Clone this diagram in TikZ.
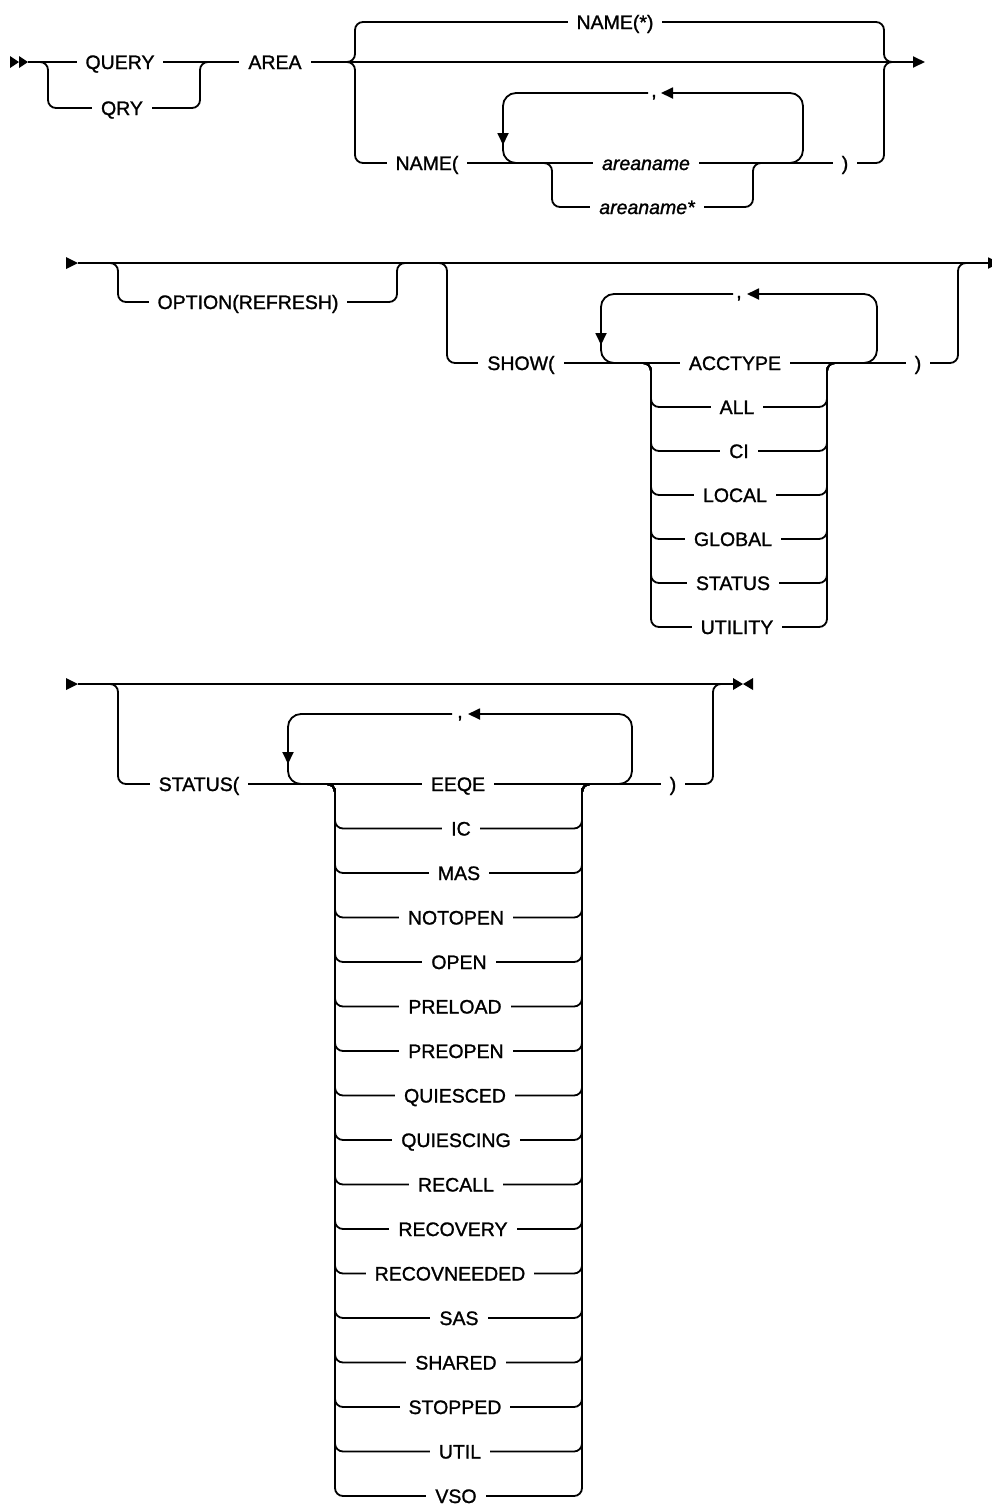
\documentclass[tikz,border=0pt]{standalone}
\usepackage{fontspec}
\setmainfont{Liberation Sans}[FakeBold=1.2]
\newfontface\varfont{Liberation Sans Italic}[FakeBold=1.2]
\usetikzlibrary{arrows.meta}
\begin{document}
\begin{tikzpicture}[x=1pt,y=-1pt,
  ln/.style={line width=1.8pt},
  rr/.style={ln, rounded corners=8pt},
  lp/.style={ln, rounded corners=13pt},
  kw/.style={fill=white, inner xsep=9pt, inner ysep=1pt, anchor=base, font=\fontsize{19.5}{22}\selectfont},
  var/.style={kw, font=\fontsize{19.5}{22}\selectfont\varfont},
  commastyle/.style={fill=white, inner xsep=3pt, inner ysep=0pt, anchor=base, font=\fontsize{19.5}{22}\selectfont},
  arr/.style={-{Triangle[length=12pt,width=11pt]}},
  markfill/.style={fill=black}]
\useasboundingbox (0,0) rectangle (992,1505);
\clip (0,0) rectangle (992,1505);

% ================= ROW 1 =================
\coordinate (r1s) at (28,62);
\coordinate (r1e) at (925,62);
\fill[markfill] (10,56) -- (19,62) -- (10,68) -- cycle;
\fill[markfill] (19,56) -- (28,62) -- (19,68) -- cycle;
\draw[ln, arr] (r1s) -- (r1e);
% QUERY / QRY
\draw[rr] (38,62) -- (48,62) -- (48,108) -- (200,108) -- (200,62) -- (210,62);
% NAME(*) / default / NAME(
\draw[rr] (345,62) -- (355,62) -- (355,22) -- (884,22) -- (884,62) -- (894,62);
\draw[rr] (345,62) -- (355,62) -- (355,163) -- (884,163) -- (884,62) -- (894,62);
% repeat loop
\draw[lp, arr] (780,163) -- (803,163) -- (803,93) -- (661,93);
\draw[lp] (648,93) -- (503,93) -- (503,128);
\draw[ln, arr] (503,122) -- (503,145);
\draw[lp] (503,139) -- (503,163) -- (528,163);
% areaname*
\draw[rr] (542,163) -- (552,163) -- (552,207) -- (753,207) -- (753,163) -- (763,163);

\node[kw] (query) at (120,69) {QUERY};
\node[kw] (qry) at (122,115) {QRY};
\node[kw] (area) at (275,69) {AREA};
\node[kw] (namestar) at (615,29) {NAME(*)};
\node[kw] (namep) at (427,170) {NAME(};
\node[commastyle] (c1) at (654,97) {,};
\node[var] (an1) at (646,170) {areaname};
\node[var] (an2) at (647,214) {areaname*};
\node[kw] (rp1) at (845,170) {)};

% ================= ROW 2 =================
\coordinate (r2s) at (78,263);
\coordinate (r2e) at (1000,263);
\fill[markfill] (66,257) -- (78,263) -- (66,269) -- cycle;
\draw[ln, arr] (r2s) -- (r2e);
\draw[rr] (108,263) -- (118,263) -- (118,302) -- (397,302) -- (397,263) -- (407,263);
\draw[rr] (437,263) -- (447,263) -- (447,363) -- (958,363) -- (958,263) -- (968,263);
% loop
\draw[lp, arr] (860,363) -- (877,363) -- (877,294) -- (747,294);
\draw[lp] (733,294) -- (601,294) -- (601,324);
\draw[ln, arr] (601,318) -- (601,345);
\draw[lp] (601,339) -- (601,363) -- (626,363);
% choices
\foreach \yy in {407,451,495,539,583,627}
  \draw[rr] (641,363) -- (651,363) -- (651,\yy) -- (827,\yy) -- (827,363) -- (837,363);

\node[kw] (opt) at (248,309) {OPTION(REFRESH)};
\node[kw] (show) at (521,370) {SHOW(};
\node[commastyle] (c2) at (739,298) {,};
\foreach \t/\yy/\xx [count=\i] in {ACCTYPE/363/735, ALL/407/737, CI/451/739, LOCAL/495/735, GLOBAL/539/733, STATUS/583/733, UTILITY/627/737}
  \node[kw] (sh\i) at (\xx,\yy+7) {\t};
\node[kw] (rp2) at (918,370) {)};

% ================= ROW 3 =================
\coordinate (r3s) at (78,684);
\coordinate (r3e) at (733,684);
\fill[markfill] (66,678) -- (78,684) -- (66,690) -- cycle;
\draw[ln] (r3s) -- (r3e);
\fill[markfill] (733,678) -- (743,684) -- (733,690) -- cycle;
\fill[markfill] (753,678) -- (743,684) -- (753,690) -- cycle;
\draw[rr] (108,684) -- (118,684) -- (118,784) -- (713,784) -- (713,684) -- (723,684);
% loop
\draw[lp, arr] (615,784) -- (632,784) -- (632,714) -- (468,714);
\draw[lp] (452,714) -- (288,714) -- (288,744);
\draw[ln, arr] (288,740) -- (288,764);
\draw[lp] (288,758) -- (288,784) -- (312,784);
% choices
\foreach \i in {1,...,16}
  \draw[rr] (325,784) -- (335,784) -- (335,784+44.5*\i) -- (582,784+44.5*\i) -- (582,784) -- (592,784);

\node[kw] (stat) at (199,791) {STATUS(};
\node[commastyle] (c3) at (460,718) {,};
\foreach \t/\xx [count=\i from 0] in {EEQE/458, IC/461, MAS/459, NOTOPEN/456, OPEN/459, PRELOAD/455, PREOPEN/456, QUIESCED/455, QUIESCING/456, RECALL/456, RECOVERY/453, RECOVNEEDED/450, SAS/459, SHARED/456, STOPPED/455, UTIL/460, VSO/456}
  \node[kw] (st\i) at (\xx,784+44.5*\i+7) {\t};
\node[kw] (rp3) at (673,791) {)};
\end{tikzpicture}
\end{document}
